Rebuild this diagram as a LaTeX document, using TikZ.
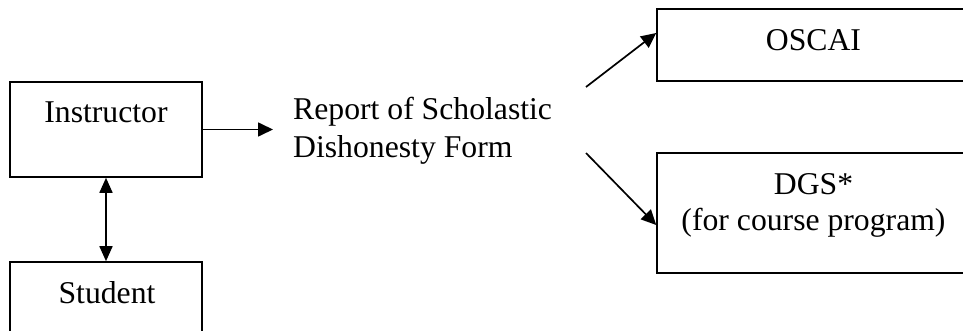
\documentclass[tikz,border=0pt]{standalone}
\usepackage{fontspec}
\setmainfont{Liberation Serif}
\usetikzlibrary{arrows.meta}
\begin{document}
\begin{tikzpicture}[x=1pt,y=-1pt,
  box/.style={draw,line width=1.6pt,inner sep=0pt},
  lbl/.style={anchor=base,inner sep=0pt,font=\fontsize{31.7}{38}\selectfont},
  tip/.style={},
  arr/.style={line width=1.7pt,-{Triangle[length=15pt,width=14pt]}},
  darr/.style={line width=1.7pt,{Triangle[length=15pt,width=13pt]}-{Triangle[length=15pt,width=13pt]}}]
\useasboundingbox (0,0) rectangle (963,331);
\clip (0,0) rectangle (963,331);
% boxes
\node[box,minimum width=192pt,minimum height=95pt] (instr) at (106,129.5) {};
\node[box,minimum width=192pt,minimum height=100pt] (stud) at (106,312) {};
\node[box,minimum width=313pt,minimum height=72pt] (oscai) at (813.5,45) {};
\node[box,minimum width=313pt,minimum height=120pt] (dgs) at (813.5,213) {};
% texts
\node[lbl] (tinstr) at (106,123) {Instructor};
\node[lbl] (tstud) at (107,303) {Student};
\node[lbl] (toscai) at (813.5,51) {OSCAI};
\node[lbl] (tdgs) at (813.5,195) {DGS*};
\node[lbl] (tdgs2) at (813.5,230) {(for course program)};
\node[lbl,anchor=base west] (rep1) at (293,120) {Report of Scholastic};
\node[lbl,anchor=base west] (rep2) at (293,158) {Dishonesty Form};
% connectors
\coordinate (rin) at (273,129.5);
\coordinate (up0) at (586,87);
\coordinate (dn0) at (586,153);
\draw[arr] (instr.east) -- (rin);
\draw[darr] (instr.south) -- (stud.north);
\draw[arr] (up0) -- ([yshift=12pt]oscai.west);
\draw[arr] (dn0) -- ([yshift=-12pt]dgs.west);
\end{tikzpicture}
\end{document}
